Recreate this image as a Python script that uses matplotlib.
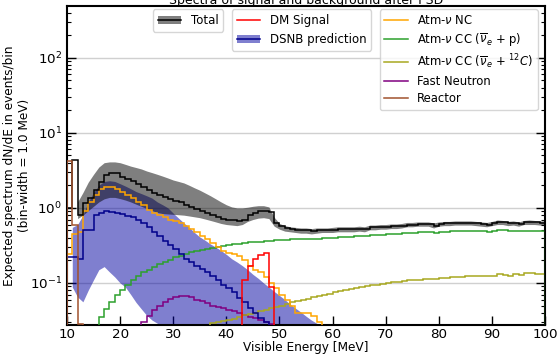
import numpy as np
import matplotlib
matplotlib.use("Agg")
import matplotlib.pyplot as plt
from matplotlib.patches import Patch
from matplotlib.lines import Line2D

# ---- spectra per 1 MeV bin (values are events/bin, first bin starts at *_start) ----
total_start = 10
total = [1.0, 4.4, 0.8, 1.15, 1.35, 1.75, 2.2, 2.75, 2.9, 2.9,
         2.6, 2.4, 2.25, 2.1, 1.9, 1.75, 1.6, 1.5, 1.4, 1.32,
         1.25, 1.18, 1.1, 1.03, 0.96, 0.9, 0.85, 0.8, 0.76, 0.72,
         0.7, 0.69, 0.66, 0.68, 0.8, 0.86, 0.9, 0.91, 0.88, 0.63,
         0.57, 0.54, 0.52, 0.51, 0.5, 0.5, 0.49, 0.5, 0.5, 0.5,
         0.51, 0.52, 0.52, 0.52, 0.52, 0.53, 0.52, 0.55, 0.55, 0.56,
         0.56, 0.57, 0.57, 0.58, 0.6, 0.6, 0.61, 0.61, 0.61, 0.58,
         0.61, 0.62, 0.62, 0.63, 0.63, 0.63, 0.63, 0.62, 0.61, 0.6,
         0.62, 0.65, 0.64, 0.62, 0.63, 0.61, 0.64, 0.65, 0.64, 0.63]

# uncertainty band of the total, sampled at integer energies
total_band_start = 12
total_upper = [1.2, 1.6, 2.2, 2.8, 3.5, 4.0, 4.1, 4.1, 4.0, 3.8,
               3.6, 3.45, 3.3, 3.1, 2.95, 2.8, 2.65, 2.5, 2.35, 2.25,
               2.15, 2.0, 1.85, 1.72, 1.58, 1.45, 1.32, 1.2, 1.1, 1.03,
               1.0, 1.0, 1.02, 1.05, 1.07, 1.07, 1.03, 0.75, 0.62, 0.58,
               0.56, 0.55, 0.54, 0.54, 0.53, 0.54,
               0.54, 0.54, 0.55, 0.56, 0.56, 0.56, 0.56, 0.57, 0.56, 0.59,
               0.59, 0.6, 0.6, 0.61, 0.61, 0.62, 0.64, 0.64, 0.65, 0.65,
               0.65, 0.63, 0.65, 0.66, 0.66, 0.67, 0.67, 0.67, 0.67, 0.66,
               0.65, 0.64, 0.66, 0.69, 0.68, 0.66, 0.67, 0.65, 0.68, 0.69,
               0.68, 0.67, 0.67]
total_lower = [0.72, 0.8, 0.92, 1.05, 1.2, 1.32, 1.38, 1.38, 1.33, 1.27,
               1.2, 1.12, 1.05, 0.98, 0.92, 0.87, 0.84, 0.83, 0.82, 0.81,
               0.8, 0.78, 0.76, 0.74, 0.71, 0.68, 0.65, 0.62, 0.6, 0.59,
               0.58, 0.6, 0.66, 0.7, 0.73, 0.74, 0.72, 0.57, 0.52, 0.49,
               0.48, 0.47, 0.46, 0.46, 0.45, 0.46,
               0.47, 0.47, 0.47, 0.48, 0.48, 0.48, 0.48, 0.49, 0.48, 0.51,
               0.51, 0.52, 0.52, 0.53, 0.53, 0.54, 0.56, 0.56, 0.57, 0.57,
               0.57, 0.54, 0.57, 0.58, 0.58, 0.59, 0.59, 0.59, 0.59, 0.58,
               0.57, 0.56, 0.58, 0.6, 0.6, 0.58, 0.59, 0.57, 0.6, 0.6,
               0.6, 0.59, 0.59]

dm_start = 43
dm_signal = [0.11, 0.17, 0.21, 0.236, 0.25, 0.088]

dsnb_start = 10
dsnb = [0.22, 0.22, 0.21, 0.5, 0.5, 0.8, 0.85, 0.9, 0.88, 0.86,
        0.82, 0.78, 0.75, 0.7, 0.62, 0.55, 0.48, 0.42, 0.36, 0.32,
        0.28, 0.24, 0.21, 0.19, 0.17, 0.155, 0.14, 0.125, 0.11, 0.095,
        0.085, 0.075, 0.063, 0.055, 0.047, 0.04, 0.034, 0.03]

dsnb_band_start = 11
dsnb_upper = [0.55, 0.6, 0.8, 1.2, 1.6, 2.0, 2.25, 2.3, 2.25, 2.1,
              1.95, 1.8, 1.65, 1.55, 1.45, 1.35, 1.2, 1.1, 1.0, 0.85,
              0.73, 0.63, 0.55, 0.47, 0.41, 0.37, 0.33, 0.3, 0.27, 0.24,
              0.21, 0.19, 0.17, 0.15, 0.13, 0.115, 0.1, 0.088, 0.077, 0.068,
              0.06, 0.052, 0.046, 0.041, 0.036, 0.032, 0.029, 0.026]
dsnb_lower = [0.088, 0.065, 0.056, 0.08, 0.11, 0.15, 0.165, 0.14, 0.12, 0.1,
              0.088, 0.07, 0.055, 0.045, 0.037, 0.032, 0.029, 0.026, 0.023, 0.02,
              0.018, 0.016, 0.014, 0.012, 0.011, 0.01, 0.009, 0.008, 0.007, 0.006,
              0.005, 0.0045, 0.004, 0.0035, 0.003, 0.0027, 0.0024, 0.0021, 0.0019, 0.0017,
              0.0015, 0.0013, 0.0012, 0.0011, 0.001, 0.0009, 0.0008, 0.0007]

atm_nc_start = 10
atm_nc = [0.24, 0.45, 0.48, 0.9, 1.2, 1.5, 1.8, 1.9, 1.9, 1.8,
          1.65, 1.5, 1.35, 1.2, 1.1, 0.95, 0.85, 0.8, 0.75, 0.7,
          0.66, 0.63, 0.57, 0.52, 0.47, 0.42, 0.38, 0.34, 0.3, 0.27,
          0.25, 0.24, 0.23, 0.2, 0.17, 0.15, 0.14, 0.12, 0.1, 0.085,
          0.07, 0.06, 0.05, 0.04, 0.04, 0.04, 0.036, 0.03]

atm_cc_p_start = 16
atm_cc_p = [0.035, 0.045, 0.055, 0.068, 0.08, 0.095, 0.11, 0.125, 0.14, 0.15,
            0.165, 0.18, 0.19, 0.205, 0.22, 0.23, 0.24, 0.255, 0.265, 0.275,
            0.285, 0.295, 0.305, 0.31, 0.32, 0.33, 0.335, 0.34, 0.35, 0.35,
            0.355, 0.36, 0.365, 0.37, 0.37, 0.375, 0.38, 0.38, 0.385, 0.385,
            0.39, 0.39, 0.395, 0.4, 0.4, 0.41, 0.41, 0.415, 0.42, 0.42,
            0.425, 0.43, 0.43, 0.44, 0.445, 0.45, 0.455, 0.46, 0.465, 0.465,
            0.47, 0.47, 0.475, 0.46, 0.475, 0.48, 0.485, 0.485, 0.49, 0.49,
            0.49, 0.49, 0.485, 0.48, 0.49, 0.5, 0.5, 0.49, 0.49, 0.49,
            0.495, 0.495, 0.49, 0.49]

atm_cc_c_start = 37
atm_cc_c = [0.029, 0.03, 0.031, 0.032, 0.033, 0.035, 0.037, 0.039, 0.04, 0.042,
            0.044, 0.046, 0.048, 0.05, 0.052, 0.055, 0.057, 0.06, 0.062, 0.064,
            0.066, 0.069, 0.072, 0.075, 0.077, 0.08, 0.082, 0.085, 0.088, 0.09,
            0.093, 0.095, 0.098, 0.1, 0.102, 0.104, 0.106, 0.108, 0.11, 0.111,
            0.113, 0.114, 0.112, 0.116, 0.118, 0.12, 0.12, 0.121, 0.122, 0.123,
            0.124, 0.125, 0.122, 0.125, 0.13, 0.128, 0.125, 0.13, 0.127, 0.135,
            0.134, 0.131, 0.132]

fast_n_start = 24
fast_neutron = [0.03, 0.036, 0.044, 0.05, 0.056, 0.062, 0.065, 0.066, 0.066, 0.064,
                0.06, 0.057, 0.054, 0.05, 0.048, 0.046, 0.044, 0.042, 0.04, 0.037,
                0.035, 0.034, 0.032, 0.03, 0.028]

reactor_start = 10
reactor = [4.2, 0.6, 0.028]

BIN_WIDTH = 1.0
FLOOR = 1e-4
LABEL_FS = 8.7
LEGEND_FS = 8.5
TICK_FS = 9.7
LW = 1.1


def edges_for(start, values):
    return start + BIN_WIDTH * np.arange(len(values) + 1)


def points_for(start, values):
    return start + BIN_WIDTH * np.arange(len(values))


fig = plt.figure(figsize=(5.58, 3.55), dpi=100)
ax = fig.add_axes([0.120, 0.0845, 0.857, 0.8986])
ax.set_yscale("log")

# shaded bands
ax.fill_between(points_for(dsnb_band_start, dsnb_upper), dsnb_lower, dsnb_upper,
                color="#0000a0", alpha=0.5, linewidth=0, zorder=2)
ax.fill_between(points_for(total_band_start, total_upper), total_lower, total_upper,
                color="black", alpha=0.5, linewidth=0, zorder=3)


# step spectra
def step(start, values, color, z=4):
    ax.stairs(values, edges_for(start, values), baseline=FLOOR,
              color=color, linewidth=LW, zorder=z)


step(fast_n_start, fast_neutron, "purple")
step(atm_cc_c_start, atm_cc_c, "#a8a820")
step(atm_cc_p_start, atm_cc_p, "tab:green")
step(atm_nc_start, atm_nc, "orange")
step(dsnb_start, dsnb, "darkblue")
step(dm_start, dm_signal, "red")
step(total_start, total, "black", z=5)
step(reactor_start, reactor, "sienna", z=6)

ax.set_xlim(10, 100)
ax.set_ylim(0.0275, 490)
ax.set_xticks(np.arange(10, 101, 10))
ax.set_xlabel("Visible Energy [MeV]", fontsize=LABEL_FS)
ax.xaxis.set_label_coords(0.5, -0.05)
ax.set_ylabel("Expected spectrum dN/dE in events/bin\n(bin-width = 1.0 MeV)",
              fontsize=LABEL_FS)
ax.yaxis.set_label_coords(-0.076, 0.5)
ax.set_title("Spectra of signal and background after PSD", fontsize=9, pad=1.5)

ax.grid(axis="y", which="major", color="#d0d0d0", linewidth=1.0)
ax.tick_params(axis="both", which="major", direction="in", length=6.5, width=1.0,
               labelsize=TICK_FS)
ax.tick_params(axis="x", which="major", pad=2.5)
ax.tick_params(axis="y", which="both", direction="in", right=True)
ax.tick_params(axis="y", which="minor", length=3.2, width=0.8)
ax.tick_params(axis="x", which="minor", bottom=False)
for sp in ax.spines.values():
    sp.set_linewidth(1.5)

# legends
h_total = (Patch(facecolor="black", alpha=0.5, edgecolor="none"),
           Line2D([], [], color="black", lw=LW))
leg1 = ax.legend([h_total], ["Total"], loc="upper left",
                 bbox_to_anchor=(0.18, 0.99), fontsize=LEGEND_FS, borderaxespad=0)
ax.add_artist(leg1)

h_dm = Line2D([], [], color="red", lw=LW)
h_dsnb = (Patch(facecolor="#0000a0", alpha=0.5, edgecolor="none"),
          Line2D([], [], color="darkblue", lw=LW))
leg2 = ax.legend([h_dm, h_dsnb], ["DM Signal", "DSNB prediction"], loc="upper left",
                 bbox_to_anchor=(0.345, 0.99), fontsize=LEGEND_FS, borderaxespad=0)
ax.add_artist(leg2)

h_bkg = [Line2D([], [], color=c, lw=LW)
         for c in ["orange", "tab:green", "#a8a820", "purple", "sienna"]]
labels_bkg = [r"Atm-$\nu$ NC",
              r"Atm-$\nu$ CC ($\overline{\nu}_e$ + p)",
              r"Atm-$\nu$ CC ($\overline{\nu}_e$ + $^{12}C$)",
              "Fast Neutron", "Reactor"]
ax.legend(h_bkg, labels_bkg, loc="upper left", bbox_to_anchor=(0.654, 0.99),
          fontsize=8.4, borderaxespad=0, labelspacing=0.36)

fig.savefig("out.png", dpi=100)
